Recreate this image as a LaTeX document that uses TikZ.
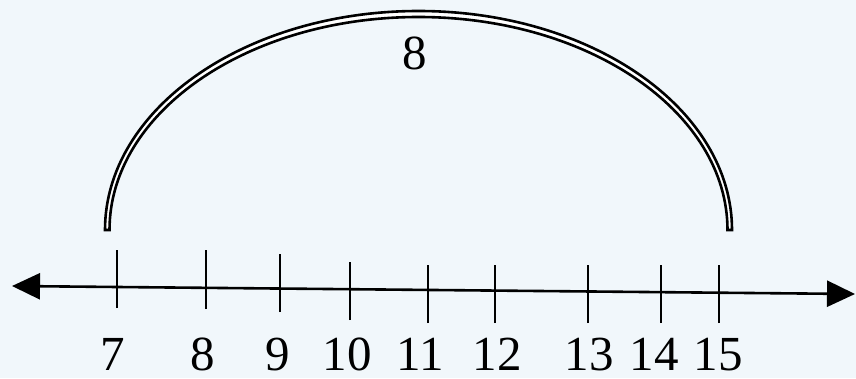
\documentclass[tikz,border=0pt]{standalone}
\usepackage{fontspec}
\setmainfont{Liberation Serif}
\usetikzlibrary{arrows.meta}
\definecolor{pagebg}{RGB}{241,247,251}

\begin{document}
\begin{tikzpicture}[x=1pt, y=1pt,
  tickline/.style={line width=2.6pt, black},
  ticklabel/.style={anchor=base, inner sep=0pt, text depth=0pt,
    font=\fontsize{49}{54}\selectfont}]
  % Background
  \fill[pagebg] (0,0) rectangle (856,378);
  \useasboundingbox (0,0) rectangle (856,378);
  % Number line
  \coordinate (lend) at (12,92);
  \coordinate (rend) at (855,84);
  \draw[line width=2.6pt, {Triangle[length=28pt,width=26pt]}-{Triangle[length=28pt,width=26pt]}]
    (lend) -- (rend);
  % Ticks
  \foreach \n/\x/\lo/\hi in {7/117/70/128, 8/206/69/128, 9/280/66/124,
      10/350/58/116, 11/428/55/113, 12/495/55/113, 13/588/55/113,
      14/661/55/113, 15/719/55/113}
    \draw[tickline] (\x,\lo) -- (\x,\hi);
  % Tick labels
  \foreach \n/\x in {7/113, 8/203, 9/278, 10/347, 11/420, 12/497, 13/589,
      14/654, 15/718}
    \node[ticklabel] (n\n) at (\x,8) {\n};
  % Jump arc (hollow band)
  \filldraw[fill=white, draw=black, line width=2.6pt]
    (105,148) arc[start angle=180, end angle=0, x radius=313.5, y radius=219]
    -- (727.5,148) arc[start angle=0, end angle=180, x radius=309, y radius=213]
    -- cycle;
  % Jump size
  \node[ticklabel] (jump) at (415,308) {8};
\end{tikzpicture}
\end{document}
